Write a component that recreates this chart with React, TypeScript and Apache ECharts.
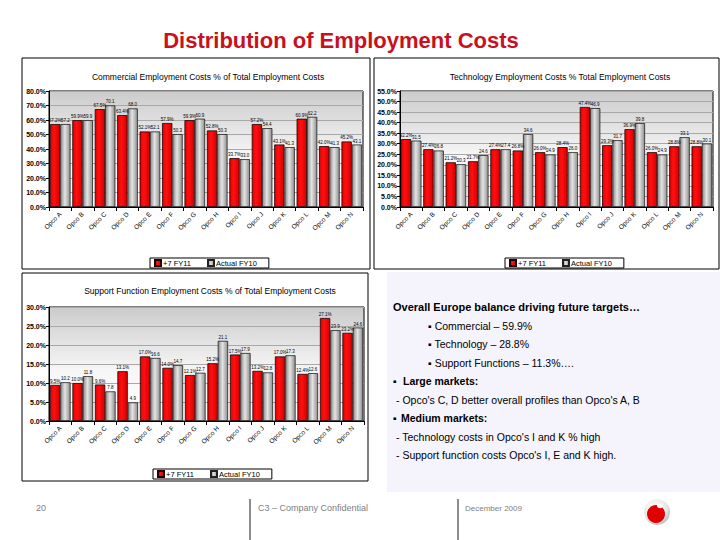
import React, { useEffect, useRef } from "react";
import * as echarts from "echarts";

const categories = ["Opco A", "Opco B", "Opco C", "Opco D", "Opco E", "Opco F", "Opco G", "Opco H", "Opco I", "Opco J", "Opco K", "Opco L", "Opco M", "Opco N"];
const seriesNames = ["+7 FY11", "Actual FY10"];

const commercialForecast = [57.2, 59.9, 67.5, 63.4, 52.1, 57.9, 59.9, 52.8, 33.7, 57.2, 43.1, 60.9, 42.0, 45.2];
const commercialActual = [57.2, 59.9, 70.1, 68.0, 52.1, 50.3, 60.9, 50.3, 33.0, 54.4, 41.3, 62.2, 41.3, 43.1];
const techForecast = [32.2, 27.4, 21.2, 21.7, 27.4, 26.8, 26.0, 28.4, 47.4, 29.3, 36.9, 26.0, 28.8, 28.8];
const techActual = [31.5, 26.8, 20.3, 24.6, 27.4, 34.6, 24.9, 26.0, 46.9, 31.7, 39.8, 24.9, 33.1, 30.1];
const supportForecast = [9.5, 10.0, 9.6, 13.1, 17.0, 14.0, 12.1, 15.2, 17.5, 13.2, 17.0, 12.4, 27.1, 23.2];
const supportActual = [10.2, 11.8, 7.8, 4.9, 16.6, 14.7, 12.7, 21.1, 17.9, 12.8, 17.3, 12.6, 23.9, 24.6];

const chartTitles = [
  "Commercial Employment Costs % of Total Employment Costs",
  "Technology Employment Costs % Total Employment Costs",
  "Support Function Employment Costs % of Total Employment Costs",
];
const axisRanges = [
  { max: 80, interval: 10 },
  { max: 55, interval: 5 },
  { max: 30, interval: 5 },
];

const FONT = "'Liberation Sans', Arial, sans-serif";

export default function App() {
  const ref = useRef<HTMLDivElement>(null);
  useEffect(() => {
    if (!ref.current) return;
    const chart = echarts.init(ref.current, null, { renderer: "svg" });

    const grids = [
      { left: 49, top: 91, right: 357, bottom: 333 },
      { left: 400, top: 91, right: 7, bottom: 333 },
      { left: 49, top: 307, right: 356, bottom: 119 },
    ];
    const bg = () =>
      new echarts.graphic.LinearGradient(0, 0, 0, 1, [
        { offset: 0, color: "#cbcbcb" },
        { offset: 0.55, color: "#f6f6f6" },
        { offset: 1, color: "#ffffff" },
      ]);
    const grayFill = () =>
      new echarts.graphic.LinearGradient(0, 0, 1, 0, [
        { offset: 0, color: "#8a8a8a" },
        { offset: 0.45, color: "#e4e4e4" },
        { offset: 1, color: "#8f8f8f" },
      ]);
    const redFill = () =>
      new echarts.graphic.LinearGradient(0, 0, 1, 0, [
        { offset: 0, color: "#e00000" },
        { offset: 0.4, color: "#ff1010" },
        { offset: 1, color: "#d40000" },
      ]);

    const data = [
      [commercialForecast, commercialActual],
      [techForecast, techActual],
      [supportForecast, supportActual],
    ];

    const series: any[] = [];
    data.forEach((pair, gi) => {
      series.push({
        name: seriesNames[0],
        type: "bar",
        xAxisIndex: gi,
        yAxisIndex: gi,
        data: pair[0],
        barGap: "0%",
        barCategoryGap: "8%",
        itemStyle: { color: redFill(), borderColor: "#200000", borderWidth: 0.8 },
        labelLayout: { moveOverlap: "shiftY" },
        label: {
          show: true,
          position: "top",
          distance: 1,
          fontSize: 4.5,
          fontFamily: FONT,
          color: "#000",
          offset: [-3, 0],
          formatter: (p: any) => p.value.toFixed(1) + "%",
        },
      });
      series.push({
        name: seriesNames[1],
        type: "bar",
        xAxisIndex: gi,
        yAxisIndex: gi,
        data: pair[1],
        barGap: "0%",
        barCategoryGap: "8%",
        itemStyle: { color: grayFill(), borderColor: "#222", borderWidth: 0.8 },
        labelLayout: { moveOverlap: "shiftY" },
        label: {
          show: true,
          position: "top",
          distance: 1,
          fontSize: 4.5,
          fontFamily: FONT,
          color: "#000",
          offset: [4, 0],
          formatter: (p: any) => p.value.toFixed(1),
        },
      });
    });

    const boxStyle = { fill: "none", stroke: "#000", lineWidth: 1 };
    const textStyle = (text: string, x: number, y: number, size: number, weight = "normal", fill = "#000") => ({
      type: "text",
      style: { text, x, y, fontSize: size, fontWeight: weight, fontFamily: FONT, fill, verticalAlign: "middle", align: "left" },
    });

    chart.setOption({
      animation: false,
      backgroundColor: "#ffffff",
      title: [
        {
          text: "Distribution of Employment Costs",
          left: 336,
          top: 24,
          textAlign: "center",
          textStyle: { fontSize: 22, fontWeight: "bold", color: "#c8101e", fontFamily: FONT },
        },
        { text: chartTitles[0], left: 203, top: 67, textAlign: "center", textStyle: { fontSize: 8.5, fontWeight: "normal", color: "#000", fontFamily: FONT } },
        { text: chartTitles[1], left: 555, top: 67, textAlign: "center", textStyle: { fontSize: 8.5, fontWeight: "normal", color: "#000", fontFamily: FONT } },
        { text: chartTitles[2], left: 205, top: 281, textAlign: "center", textStyle: { fontSize: 8.5, fontWeight: "normal", color: "#000", fontFamily: FONT } },
      ],
      legend: [
        { left: 150, top: 258 },
        { left: 505, top: 258 },
        { left: 153, top: 469 },
      ].map((pos) => ({
        ...pos,
        data: seriesNames,
        orient: "horizontal",
        itemWidth: 6,
        itemHeight: 6,
        itemGap: 16,
        padding: [1, 12, 1, 4],
        borderColor: "#000",
        borderWidth: 1,
        textStyle: { fontSize: 7.5, fontFamily: FONT, color: "#000", padding: [0, 0, 0, -3] },
        icon: "rect",
        selectedMode: false,
      })),
      grid: grids.map((g) => ({
        ...g,
        show: true,
        backgroundColor: bg(),
        borderColor: "#000",
        borderWidth: 1,
      })),
      xAxis: grids.map((_, i) => ({
        type: "category",
        gridIndex: i,
        data: categories,
        axisLine: { lineStyle: { color: "#000", width: 1 } },
        axisTick: { show: true, length: 4, lineStyle: { color: "#000" } },
        axisLabel: { rotate: 45, fontSize: 6.5, fontFamily: FONT, color: "#000", margin: 6, interval: 0 },
      })),
      yAxis: grids.map((_, i) => ({
        type: "value",
        gridIndex: i,
        min: 0,
        max: axisRanges[i].max,
        interval: axisRanges[i].interval,
        axisLine: { show: true, lineStyle: { color: "#000", width: 1 } },
        axisTick: { show: true, length: 3, lineStyle: { color: "#000" } },
        axisLabel: {
          fontSize: 7,
          fontWeight: "bold",
          fontFamily: FONT,
          color: "#000",
          margin: 3,
          formatter: (v: number) => v.toFixed(1) + "%",
        },
        splitLine: { show: true, lineStyle: { color: "#a8a8a8", width: 1 } },
      })),
      series,
      graphic: [
        { type: "rect", shape: { x: 22, y: 58, width: 348, height: 211 }, style: boxStyle, silent: true },
        { type: "rect", shape: { x: 374, y: 58, width: 345, height: 211 }, style: boxStyle, silent: true },
        { type: "rect", shape: { x: 22, y: 273, width: 346, height: 208 }, style: boxStyle, silent: true },
        { type: "rect", shape: { x: 387, y: 272, width: 333, height: 220 }, style: { fill: "#f5f4fc" }, silent: true, z: -10 },
        textStyle("Overall Europe balance driving future targets\u2026", 393, 307, 11, "bold"),
        textStyle("\u25aa Commercial \u2013 59.9%", 428, 326, 10.5),
        textStyle("\u25aa Technology \u2013 28.8%", 428, 344, 10.5),
        textStyle("\u25aa Support Functions \u2013 11.3%\u2026.", 428, 363, 10.5),
        textStyle("\u25aa", 393, 381, 10.5),
        textStyle("Large markets:", 403, 381, 10.5, "bold"),
        textStyle("- Opco's C, D better overall profiles than Opco's A, B", 396, 400, 10.5),
        textStyle("\u25aa", 393, 418, 10.5),
        textStyle("Medium markets:", 401, 418, 10.5, "bold"),
        textStyle("- Technology costs in Opco's I and K % high", 396, 437, 10.5),
        textStyle("- Support function costs Opco's I, E and K high.", 396, 455, 10.5),
        textStyle("20", 36, 508, 9, "normal", "#808080"),
        { type: "line", shape: { x1: 250, y1: 499, x2: 250, y2: 540 }, style: { stroke: "#8c8c8c", lineWidth: 2 }, silent: true },
        textStyle("C3 \u2013 Company Confidential", 258, 508, 9, "normal", "#808080"),
        { type: "line", shape: { x1: 458, y1: 499, x2: 458, y2: 540 }, style: { stroke: "#8c8c8c", lineWidth: 2 }, silent: true },
        textStyle("December 2009", 465, 508, 8, "normal", "#808080"),
        {
          type: "circle",
          shape: { cx: 657, cy: 512, r: 13 },
          style: {
            fill: new echarts.graphic.RadialGradient(0.4, 0.35, 0.7, [
              { offset: 0, color: "#ffffff" },
              { offset: 0.7, color: "#e6e6e6" },
              { offset: 1, color: "#b4b4b4" },
            ]),
          },
          silent: true,
        },
        { type: "circle", shape: { cx: 656, cy: 514, r: 9 }, style: { fill: "#e00000" }, silent: true },
        { type: "ellipse", shape: { cx: 660, cy: 506, rx: 3, ry: 2.2 }, style: { fill: "#ffffff" }, silent: true },
      ],
    });

    return () => chart.dispose();
  }, []);

  return <div ref={ref} style={{ position: "fixed", left: 0, top: 0, width: 720, height: 540 }} />;
}
